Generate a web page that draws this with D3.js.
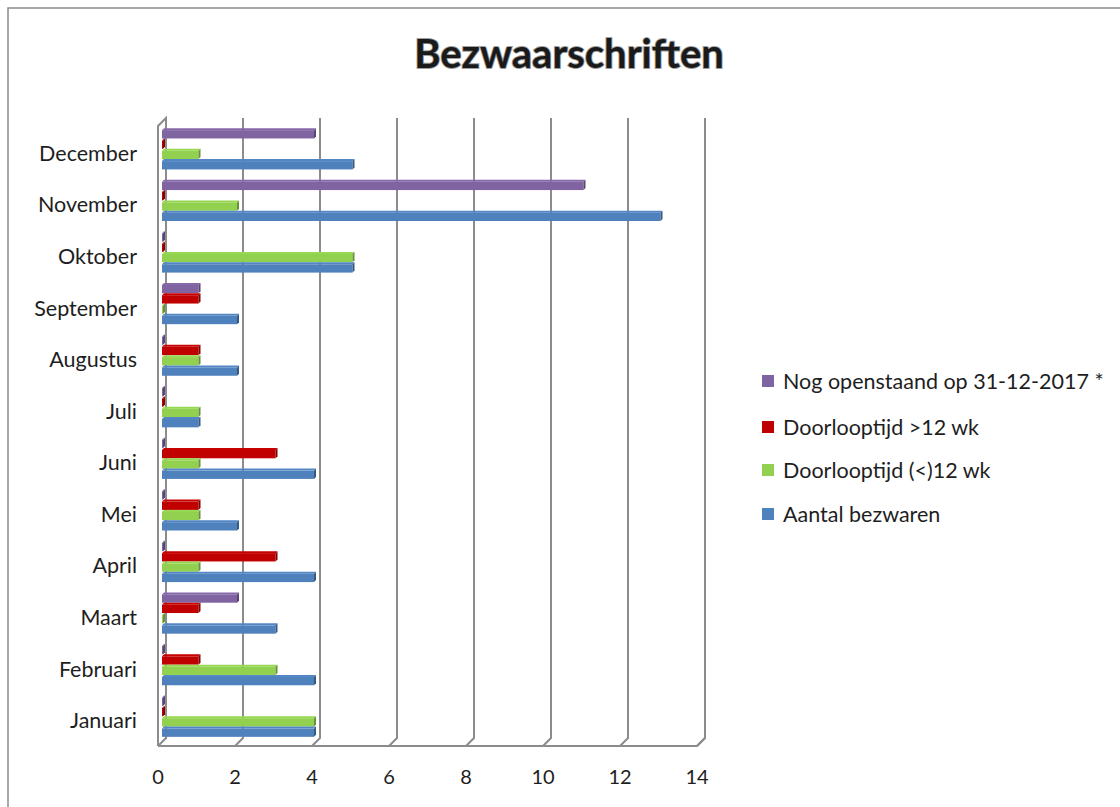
<!DOCTYPE html>
<html lang="nl">
<head>
<meta charset="UTF-8">
<title>Bezwaarschriften</title>
<script src="https://d3js.org/d3.v7.min.js"></script>
<style>
    body{ margin:0; background:#fff; }
    svg text{ font-family: Lato, "Open Sans", sans-serif; fill:#1e1e1e; }
    .grid{ stroke:#8c8c8c; stroke-width:2; fill:none; }
</style>
</head>
<body>
<script>
    // data, bottom to top in the chart
    var months = ["Januari","Februari","Maart","April","Mei","Juni","Juli","Augustus","September","Oktober","November","December"];
    var seriesNames = ["Nog openstaand op 31-12-2017 *","Doorlooptijd >12 wk","Doorlooptijd (<)12 wk","Aantal bezwaren"];
    var seriesColors = ["#8064A2","#C00000","#92D050","#4F81BD"];
    var openstaand = [0,0,2,0,0,0,0,0,1,0,11,4];
    var boven12    = [0,1,1,3,1,3,0,1,1,0,0,0];
    var onder12    = [4,3,0,1,1,1,1,1,0,5,2,1];
    var aantal     = [4,4,3,4,2,4,1,2,2,5,13,5];
    var xTicks = [0,2,4,6,8,10,12,14];

    var w = 1120, h = 807;
    var depth = 8;          // 3d wall depth
    var bd = 2;             // bar depth

    var svg = d3.select("body").append("svg").attr("width",w).attr("height",h);

    // outer frame
    svg.append("path").attr("d","M8,807 L8,8 L1120,8")
       .attr("fill","none").attr("stroke","#8c8c8c").attr("stroke-width",1.5);

    // title
    svg.append("text").attr("x",569).attr("y",68).attr("text-anchor","middle")
       .attr("font-size",40).attr("font-weight","bold")
       .style("fill","#1a1a1a").style("stroke","#a0a0a0").style("stroke-width",1.8)
       .style("paint-order","stroke")
       .text("Bezwaarschriften");

    // scales (front plane)
    var x = d3.scaleLinear().domain([0,14]).range([158,697]);
    var y = d3.scaleBand().domain(months.slice().reverse()).range([127,746]).paddingInner(0.2).paddingOuter(0.1);
    var ySub = d3.scaleBand().domain(d3.range(4)).range([0,y.bandwidth()]);

    // back wall gridlines + floor
    var g = svg.append("g");
    var backTop = 118, backBottom = 746 - depth;
    xTicks.forEach(function(t){
        var fx = x(t), bx = fx + depth;
        if(t === 0) return;
        g.append("path").attr("class","grid")
         .attr("d","M"+bx+","+backTop+" L"+bx+","+backBottom+" L"+fx+","+(backBottom+depth));
    });
    // left side wall
    g.append("path").attr("class","grid")
     .attr("d","M"+x(0)+","+(746)+" L"+x(0)+","+(backTop+depth)+" L"+(x(0)+depth)+","+backTop+" L"+(x(0)+depth)+","+backBottom+" L"+x(0)+","+746);
    // floor front edge
    g.append("path").attr("class","grid")
     .attr("d","M"+x(0)+",746 L"+x(14)+",746 L"+(x(14)+depth)+","+backBottom);

    // x tick labels
    svg.append("g").selectAll("text").data(xTicks).enter().append("text")
       .attr("x",function(d){ return x(d); }).attr("y",784)
       .attr("text-anchor","middle").attr("font-size",20)
       .text(function(d){ return d; });

    // category labels
    svg.append("g").selectAll("text").data(months).enter().append("text")
       .attr("x",137).attr("y",function(d){ return y(d) + y.bandwidth()/2 + 8; })
       .attr("text-anchor","end").attr("font-size",21.5)
       .text(function(d){ return d; });

    // bars
    var series = [openstaand, boven12, onder12, aantal];
    var rows = [];
    months.forEach(function(m,i){
        series.forEach(function(s,j){ rows.push({month:m, s:j, v:s[i]}); });
    });

    var bars = svg.append("g").selectAll("g").data(rows).enter().append("g");
    var xb = function(v){ return x(v) + 4; };
    bars.each(function(d){
        var sel = d3.select(this);
        var col = d3.color(seriesColors[d.s]);
        var x0 = xb(0), x1 = d.v > 0 ? xb(d.v) - bd : x0 + 1;
        var yt = y(d.month) + ySub(d.s) - 4;
        var bh = ySub.bandwidth();
        sel.append("rect").attr("x",x0).attr("y",yt+bd).attr("width",x1-x0).attr("height",bh-bd)
           .attr("fill",col.formatHex());
        sel.append("path")
           .attr("d","M"+x0+","+(yt+bd)+" L"+(x0+bd)+","+yt+" L"+(x1+bd)+","+yt+" L"+x1+","+(yt+bd)+"Z")
           .attr("fill",col.brighter(0.1).formatHex());
        sel.append("path")
           .attr("d","M"+x1+","+(yt+bd)+" L"+(x1+bd)+","+yt+" L"+(x1+bd)+","+(yt+bh-bd)+" L"+x1+","+(yt+bh)+"Z")
           .attr("fill",col.darker(1).formatHex());
    });

    // legend
    var legY = [381,427,470,514];
    var leg = svg.append("g").selectAll("g").data(seriesNames).enter().append("g")
        .attr("transform",function(d,i){ return "translate(762,"+legY[i]+")"; });
    leg.append("rect").attr("x",0).attr("y",-6).attr("width",12).attr("height",12)
       .attr("fill",function(d,i){ return seriesColors[i]; });
    leg.append("text").attr("x",21).attr("y",7.5).attr("font-size",21.5)
       .text(function(d){ return d; });
</script>
</body>
</html>
